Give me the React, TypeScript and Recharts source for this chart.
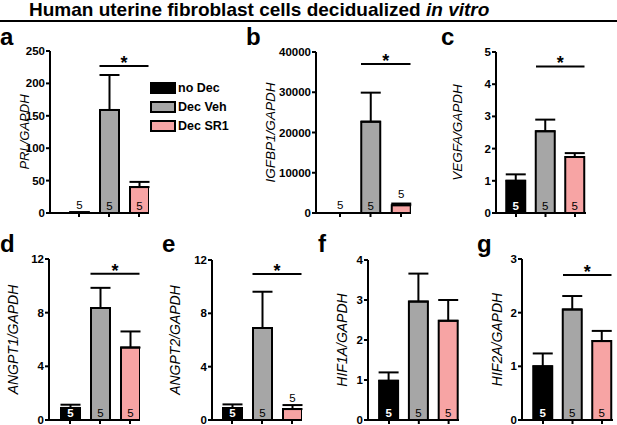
import {
  Bar,
  BarChart,
  Cell,
  ErrorBar,
  LabelList,
  Legend,
  ReferenceLine,
  XAxis,
  YAxis,
} from "recharts";

const FONT = '"Liberation Sans", Arial, sans-serif';

// groups + colours
const groups = ["no Dec", "Dec Veh", "Dec SR1"];
const groupColors = ["#000000", "#a6a6a6", "#f7a4a4"];
const nPerGroup = [5, 5, 5];

// mean and upper SEM (relative to GAPDH)
const prlMean = [1, 159, 40];
const prlSem = [0, 54, 8];
const prlTicks = [0, 50, 100, 150, 200, 250];

const igfbp1Mean = [1, 22700, 1950];
const igfbp1Sem = [0, 7200, 400];
const igfbp1Ticks = [0, 10000, 20000, 30000, 40000];

const vegfaMean = [1.0, 2.54, 1.74];
const vegfaSem = [0.2, 0.36, 0.12];
const vegfaTicks = [0, 1, 2, 3, 4, 5];

const angpt1Mean = [0.9, 8.35, 5.4];
const angpt1Sem = [0.24, 1.5, 1.2];
const angpt1Ticks = [0, 4, 8, 12];

const angpt2Mean = [0.9, 6.9, 0.82];
const angpt2Sem = [0.27, 2.72, 0.3];
const angpt2Ticks = [0, 4, 8, 12];

const hif1aMean = [0.98, 2.96, 2.48];
const hif1aSem = [0.21, 0.7, 0.52];
const hif1aTicks = [0, 1, 2, 3, 4];

const hif2aMean = [1.0, 2.06, 1.47];
const hif2aSem = [0.24, 0.25, 0.19];
const hif2aTicks = [0, 1, 2, 3];

// height of the Veh vs SR1 "*" bracket, in axis units (null = no bracket)
const sigLevels = [227, 37000, 4.55, 10.9, 10.95, null, 2.7];

// page geometry of every panel (pixels)
const YW = 56; // y axis area
const MT = 6;
const MR = 4;
const XH = 10;

const panels = [
  { letter: "a", lx: 0, ly: 45, title: "PRL/GAPDH", tDist: 26, tSize: 13, mean: prlMean, sem: prlSem, ticks: prlTicks, axisX: 50, top: 51, zero: 213, first: 79, step: 30, end: 149 },
  { letter: "b", lx: 246, ly: 45, title: "IGFBP1/GAPDH", tDist: 46, tSize: 13.5, mean: igfbp1Mean, sem: igfbp1Sem, ticks: igfbp1Ticks, axisX: 316, top: 52, zero: 213, first: 340, step: 30.5, end: 411 },
  { letter: "c", lx: 441, ly: 45, title: "VEGFA/GAPDH", tDist: 39, tSize: 13.5, mean: vegfaMean, sem: vegfaSem, ticks: vegfaTicks, axisX: 496, top: 52, zero: 213, first: 516, step: 29.5, end: 586 },
  { letter: "d", lx: 0, ly: 252, title: "ANGPT1/GAPDH", tDist: 36, tSize: 14, mean: angpt1Mean, sem: angpt1Sem, ticks: angpt1Ticks, axisX: 49, top: 259, zero: 420, first: 70, step: 30, end: 140 },
  { letter: "e", lx: 162, ly: 252, title: "ANGPT2/GAPDH", tDist: 37, tSize: 14, mean: angpt2Mean, sem: angpt2Sem, ticks: angpt2Ticks, axisX: 212, top: 260, zero: 420, first: 232, step: 30, end: 302 },
  { letter: "f", lx: 318, ly: 252, title: "HIF1A/GAPDH", tDist: 26, tSize: 14, mean: hif1aMean, sem: hif1aSem, ticks: hif1aTicks, axisX: 368, top: 260, zero: 420, first: 389, step: 29.8, end: 459 },
  { letter: "g", lx: 477, ly: 252, title: "HIF2A/GAPDH", tDist: 25, tSize: 14, mean: hif2aMean, sem: hif2aSem, ticks: hif2aTicks, axisX: 522, top: 259, zero: 420, first: 543, step: 29.5, end: 613 },
];

const BAR_W = 19;

// "5" (n) inside the bar, above a short bar, or on the baseline for ~0 bars
function NLabel(props: any) {
  const { x, y, width, height, value, index } = props;
  const cx = x + width / 2;
  if (height >= 11.5) {
    const dark = index === 0;
    return (
      <text x={cx} y={y + height - 3.5} textAnchor="middle" fontSize={11.5}
        fontWeight={dark ? 700 : 400} fill={dark ? "#fff" : "#000"}>
        {value}
      </text>
    );
  }
  if (height < 3) {
    return <text x={cx} y={y + height - 4.5} textAnchor="middle" fontSize={11.5} fill="#000">{value}</text>;
  }
  return <text x={cx} y={y - 7} textAnchor="middle" fontSize={11.5} fill="#000">{value}</text>;
}

function SigBracket(props: any) {
  const { x1, y1, x2 } = props;
  const half = BAR_W / 2;
  return (
    <g>
      <line x1={x1 - half} y1={y1} x2={x2 + half} y2={y1} stroke="#000" strokeWidth={2} />
      <text x={(x1 + x2) / 2} y={y1 + 3} textAnchor="middle" fontSize={18} fontWeight={700} fill="#000">*</text>
    </g>
  );
}

function GroupLegend() {
  return (
    <div style={{ fontFamily: FONT }}>
      {groups.map((g, i) => (
        <div key={g} style={{ display: "flex", alignItems: "center", height: 19 }}>
          <svg width={26} height={12} style={{ display: "block" }}>
            <rect x={1} y={1} width={24} height={10} fill={groupColors[i]} stroke="#000" strokeWidth={2} />
          </svg>
          <span style={{ marginLeft: 2, fontSize: 12.5, fontWeight: 700, whiteSpace: "nowrap" }}>{g}</span>
        </div>
      ))}
    </div>
  );
}

function Panel({ p, idx }: { p: any; idx: number }) {
  const plotW = p.end - p.axisX;
  const plotH = p.zero - p.top;
  const data = groups.map((g, i) => ({ i, group: g, mean: p.mean[i], err: [0, p.sem[i]], n: nPerGroup[i] }));
  const domain = [(p.axisX - p.first) / p.step, (p.end - p.first) / p.step];
  const sig = sigLevels[idx];
  const chartTop = p.top - MT;
  const chartLeft = p.axisX - YW;
  return (
    <>
      <div style={{ position: "absolute", left: p.lx, top: p.ly - 20, fontSize: 24, fontWeight: 700, lineHeight: "24px" }}>
        {p.letter}
      </div>
      <div style={{ position: "absolute", left: chartLeft, top: chartTop }}>
        <BarChart width={YW + plotW + MR} height={MT + plotH + XH} data={data}
          margin={{ top: MT, right: MR, left: 0, bottom: 0 }}>
          <XAxis type="number" dataKey="i" domain={domain} allowDataOverflow ticks={[0, 1, 2]}
            tickFormatter={() => ""} height={XH} tickSize={4}
            axisLine={{ stroke: "#000", strokeWidth: 2 }} tickLine={{ stroke: "#000", strokeWidth: 2 }} />
          <YAxis type="number" domain={[0, p.ticks[p.ticks.length - 1]]} ticks={p.ticks} interval={0}
            width={YW} tickSize={4} tickMargin={1}
            tick={{ fontSize: 11.5, fontWeight: 700, fill: "#000" }}
            axisLine={{ stroke: "#000", strokeWidth: 2 }} tickLine={{ stroke: "#000", strokeWidth: 2 }}
            label={{ value: p.title, angle: -90, position: "insideLeft", offset: YW - p.tDist,
              style: { textAnchor: "middle", fontStyle: "italic", fontSize: p.tSize, fill: "#000" } }} />
          {idx === 0 && (
            <Legend layout="vertical" align="center" verticalAlign="middle" content={() => <GroupLegend />}
              wrapperStyle={{ left: 150 - chartLeft, top: 78.5 - chartTop, width: 90 }} />
          )}
          <Bar dataKey="mean" barSize={BAR_W} stroke="#000" strokeWidth={2} isAnimationActive={false}>
            {data.map((d, i) => (
              <Cell key={d.group} fill={groupColors[i]} />
            ))}
            <ErrorBar dataKey="err" direction="y" width={10} stroke="#000" strokeWidth={2} isAnimationActive={false} />
            <LabelList dataKey="n" content={<NLabel />} />
          </Bar>
          {sig != null && (
            <ReferenceLine segment={[{ x: 1, y: sig }, { x: 2, y: sig }]} shape={(sp: any) => <SigBracket {...sp} />} />
          )}
        </BarChart>
      </div>
    </>
  );
}

export default function App() {
  return (
    <div style={{ position: "relative", width: 617, height: 425, fontFamily: FONT, color: "#000", background: "#fff", overflow: "hidden" }}>
      <style>{`body{margin:0}`}</style>
      <div style={{ position: "absolute", left: 29, top: 0, fontSize: 19, fontWeight: 700, lineHeight: "19px", whiteSpace: "nowrap" }}>
        Human uterine fibroblast cells decidualized <i>in vitro</i>
      </div>
      <div style={{ position: "absolute", left: 0, top: 19.5, width: 617, height: 2, background: "#000" }} />
      {panels.map((p, i) => (
        <Panel key={p.letter} p={p} idx={i} />
      ))}
    </div>
  );
}
